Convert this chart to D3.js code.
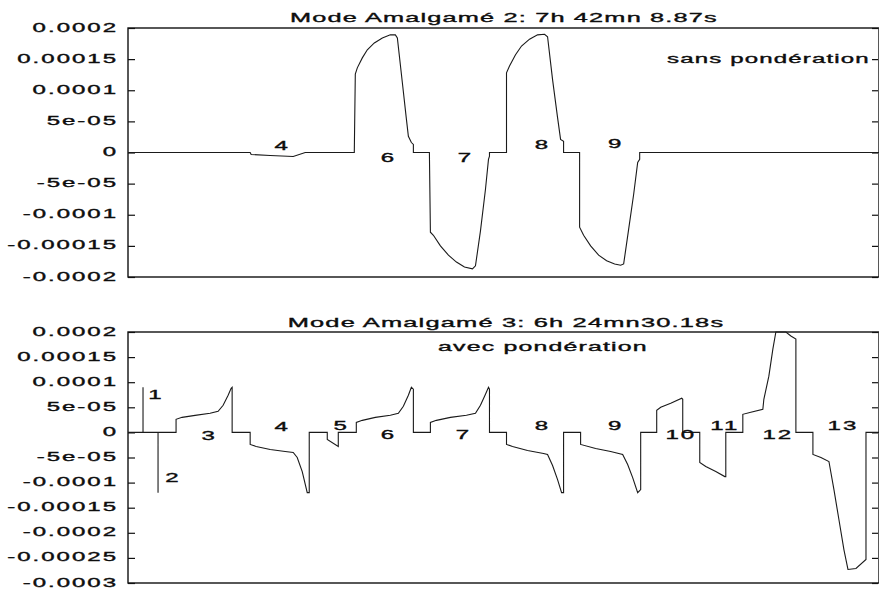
<!DOCTYPE html>
<html>
<head>
<meta charset="utf-8">
<script src="https://cdn.jsdelivr.net/npm/d3@7"></script>
<style>
  body { margin: 0; background: #fff; }
  svg text { font-family: "Liberation Sans", Arial, sans-serif; fill: #0d0d0d; stroke: #0d0d0d; stroke-width: 0.35px; }
</style>
</head>
<body>
<svg id="chart" width="879" height="591"></svg>
<script>
// ---- data (x = time in arbitrary units 0..750) ----
const topTitle = "Mode Amalgamé 2: 7h 42mn 8.87s";
const topNote = "sans pondération";
const bottomTitle = "Mode Amalgamé 3: 6h 24mn30.18s";
const bottomNote = "avec pondération";

const topTickValues = [2e-4, 1.5e-4, 1e-4, 5e-5, 0, -5e-5, -1e-4, -1.5e-4, -2e-4];
const topTickLabels = ["0.0002", "0.00015", "0.0001", "5e-05", "0", "-5e-05", "-0.0001", "-0.00015", "-0.0002"];
const bottomTickValues = [2e-4, 1.5e-4, 1e-4, 5e-5, 0, -5e-5, -1e-4, -1.5e-4, -2e-4, -2.5e-4, -3e-4];
const bottomTickLabels = ["0.0002", "0.00015", "0.0001", "5e-05", "0", "-5e-05", "-0.0001", "-0.00015", "-0.0002", "-0.00025", "-0.0003"];

const topSeries = [
  [0, 0], [122, 0], [123, -3.2e-6], [142, -4.8e-6], [165, -6.4e-6], [177, 0],
  [226, 0], [227, 1.26e-4], [229, 1.36e-4], [234, 1.52e-4], [239, 1.65e-4], [246, 1.76e-4],
  [254, 1.84e-4], [262, 1.89e-4], [267, 1.89e-4], [269, 1.84e-4], [274, 1.12e-4],
  [278, 5.4e-5], [280, 2.6e-5], [283, 1.6e-5], [285, 1.3e-5], [285, 0],
  [301, 0], [302, -1.28e-4], [305, -1.33e-4], [312, -1.5e-4], [320, -1.65e-4], [328, -1.76e-4],
  [336, -1.84e-4], [344, -1.87e-4], [347, -1.82e-4], [352, -1.26e-4], [357, -5.9e-5],
  [360, -1.1e-5], [361, -6e-6], [361, 0],
  [378, 0], [378, 1.28e-4], [381, 1.39e-4], [387, 1.57e-4], [393, 1.71e-4], [401, 1.82e-4],
  [409, 1.89e-4], [416, 1.9e-4], [419, 1.86e-4], [424, 1.17e-4], [429, 5.6e-5],
  [432, 2.1e-5], [435, 1.8e-5], [435, 0],
  [451, 0], [451, -1.2e-4], [455, -1.33e-4], [462, -1.5e-4], [470, -1.65e-4], [478, -1.74e-4],
  [486, -1.79e-4], [492, -1.81e-4], [495, -1.79e-4], [500, -1.23e-4], [505, -6.7e-5],
  [509, -1.6e-5], [511, -1.1e-5], [511, 0],
  [750, 0]
];

const bottomSeries = [
  [0, 0], [15, 0], [15, 9e-5], [15, 0], [30, 0], [30, -1.2e-4], [30, 0],
  [48, 0], [48, 2.6e-5], [54, 3e-5], [67, 3.4e-5], [82, 3.8e-5], [90, 4.2e-5], [95, 5.4e-5],
  [100, 7.4e-5], [103, 8.8e-5], [104, 9e-5], [104, 0],
  [122, 0], [122, -2.4e-5], [128, -2.8e-5], [142, -3.4e-5], [157, -3.8e-5], [165, -4e-5],
  [169, -5e-5], [174, -7.8e-5], [179, -1.2e-4], [181, -1.2e-4], [181, 0],
  [199, 0], [199, -1.4e-5], [210, -2.8e-5], [210, 0],
  [228, 0], [228, 2e-5], [234, 2.4e-5], [247, 3e-5], [262, 3.4e-5], [270, 3.8e-5], [275, 5.2e-5],
  [280, 7.4e-5], [283, 9e-5], [285, 8.6e-5], [285, 0],
  [302, 0], [302, 2e-5], [308, 2.4e-5], [322, 3e-5], [338, 3.4e-5], [347, 3.8e-5], [352, 5.4e-5],
  [357, 7.6e-5], [360, 9e-5], [361, 8.6e-5], [361, 0],
  [378, 0], [378, -2.4e-5], [384, -2.8e-5], [399, -3.6e-5], [415, -4.2e-5], [419, -4.4e-5],
  [424, -6.6e-5], [429, -9.4e-5], [433, -1.2e-4], [435, -1.2e-4], [435, 0],
  [452, 0], [452, -2.4e-5], [467, -3.2e-5], [482, -3.8e-5], [494, -4.4e-5], [499, -6.4e-5],
  [504, -9e-5], [509, -1.2e-4], [512, -1.14e-4], [512, 0],
  [528, 0], [528, 4.4e-5], [532, 5e-5], [542, 5.8e-5], [553, 6.8e-5], [554, 6.6e-5], [554, 0],
  [571, 0], [571, -6e-5], [577, -6.8e-5], [587, -7.8e-5], [596, -8.8e-5], [597, -8.8e-5], [597, 0],
  [614, 0], [614, 3.6e-5], [622, 4e-5], [634, 4.6e-5], [635, 6.6e-5], [640, 1.12e-4],
  [644, 1.66e-4], [647, 2e-4], [657, 2e-4], [662, 1.92e-4], [667, 1.86e-4], [667, 0],
  [684, 0], [684, -4.4e-5], [692, -5e-5], [700, -5.8e-5], [705, -1.14e-4], [710, -1.74e-4],
  [715, -2.34e-4], [719, -2.73e-4], [727, -2.71e-4], [737, -2.53e-4], [737, 0],
  [750, 0]
];

const topLabelText = ["4", "6", "7", "8", "9"];
const topLabelTime = [154, 260, 337, 414, 487];
const topLabelValue = [3.7e-6, -1.55e-5, -1.45e-5, 6.4e-6, 8e-6];

const bottomLabelText = ["1", "2", "3", "4", "5", "6", "7", "8", "9", "10", "11", "12", "13"];
const bottomLabelTime = [28, 45, 81, 154, 213, 260, 335, 414, 487, 552, 596, 649, 714];
const bottomLabelValue = [6.6e-5, -9.8e-5, -1.6e-5, 2e-6, 4e-6, -1.4e-5, -1.4e-5, 4e-6, 4e-6, -1.4e-5, 4e-6, -1.4e-5, 4e-6];

// ---- layout ----
const svg = d3.select("#chart");
const left = 128, right = 879;
const SX = 2.0; // the scanned font is very wide

function stretch(sel, sx) {
  sel.each(function () {
    const el = d3.select(this);
    el.attr("x", (+el.attr("x") || 0) / sx).attr("transform", `scale(${sx},1)`);
  });
}

function fitText(g, str, cx, y, width, size, anchor) {
  const t = g.append("text")
    .attr("font-size", size)
    .attr("letter-spacing", 0.6)
    .attr("text-anchor", anchor)
    .attr("y", y)
    .text(str);
  const sx = width / t.node().getComputedTextLength();
  t.attr("x", cx / sx).attr("transform", `scale(${sx},1)`);
}

function drawPanel(p) {
  const g = svg.append("g");
  const x = d3.scaleLinear().domain([0, 750]).range([left, right]);
  const y = d3.scaleLinear().domain(p.domain).range([p.bottom, p.top]);

  g.append("rect")
    .attr("x", left).attr("y", p.top)
    .attr("width", right - left).attr("height", p.bottom - p.top)
    .attr("fill", "none").attr("stroke", "#111").attr("stroke-width", 1.4);

  const yAxis = d3.axisLeft(y)
    .tickValues(p.ticks)
    .tickFormat((d, i) => p.tickLabels[i])
    .tickSizeInner(-7).tickSizeOuter(0).tickPadding(10);
  const ya = g.append("g").attr("transform", `translate(${left},0)`).call(yAxis);
  ya.select(".domain").remove();
  ya.selectAll("line").attr("stroke", "#111").attr("stroke-width", 1.2);
  ya.selectAll("text")
    .attr("font-size", 12)
    .attr("letter-spacing", 1)
    .attr("dy", "0.25em")
    .attr("fill", "#0d0d0d");
  stretch(ya.selectAll("text"), SX);

  const yRight = d3.axisRight(y).tickValues(p.ticks).tickFormat("")
    .tickSizeInner(-6).tickSizeOuter(0);
  const yr = g.append("g").attr("transform", `translate(${right - 1},0)`).call(yRight);
  yr.select(".domain").remove();
  yr.selectAll("line").attr("stroke", "#111").attr("stroke-width", 1.2);

  const line = d3.line().x(d => x(d[0])).y(d => y(d[1]));
  g.append("path")
    .datum(p.series)
    .attr("d", line)
    .attr("fill", "none")
    .attr("stroke", "#1a1a1a")
    .attr("stroke-width", 1.1);

  const labels = g.append("g").selectAll("text")
    .data(p.labelText)
    .join("text")
    .attr("font-size", 12)
    .attr("letter-spacing", 1)
    .attr("text-anchor", "middle")
    .attr("x", (d, i) => x(p.labelTime[i]))
    .attr("y", (d, i) => y(p.labelValue[i]))
    .text(d => d);
  stretch(labels, SX);

  fitText(g, p.title, p.titleX, p.titleY, p.titleW, 13, "middle");
  fitText(g, p.note, p.noteX, p.noteY, p.noteW, 12.5, "start");
}

drawPanel({
  top: 28, bottom: 277, domain: [-2e-4, 2e-4],
  ticks: topTickValues, tickLabels: topTickLabels,
  series: topSeries,
  labelText: topLabelText, labelTime: topLabelTime, labelValue: topLabelValue,
  title: topTitle, titleX: 504, titleY: 22, titleW: 428,
  note: topNote, noteX: 667, noteY: 63, noteW: 203
});

drawPanel({
  top: 332, bottom: 583, domain: [-3e-4, 2e-4],
  ticks: bottomTickValues, tickLabels: bottomTickLabels,
  series: bottomSeries,
  labelText: bottomLabelText, labelTime: bottomLabelTime, labelValue: bottomLabelValue,
  title: bottomTitle, titleX: 506, titleY: 327, titleW: 437,
  note: bottomNote, noteX: 438, noteY: 351, noteW: 210
});
</script>
</body>
</html>
